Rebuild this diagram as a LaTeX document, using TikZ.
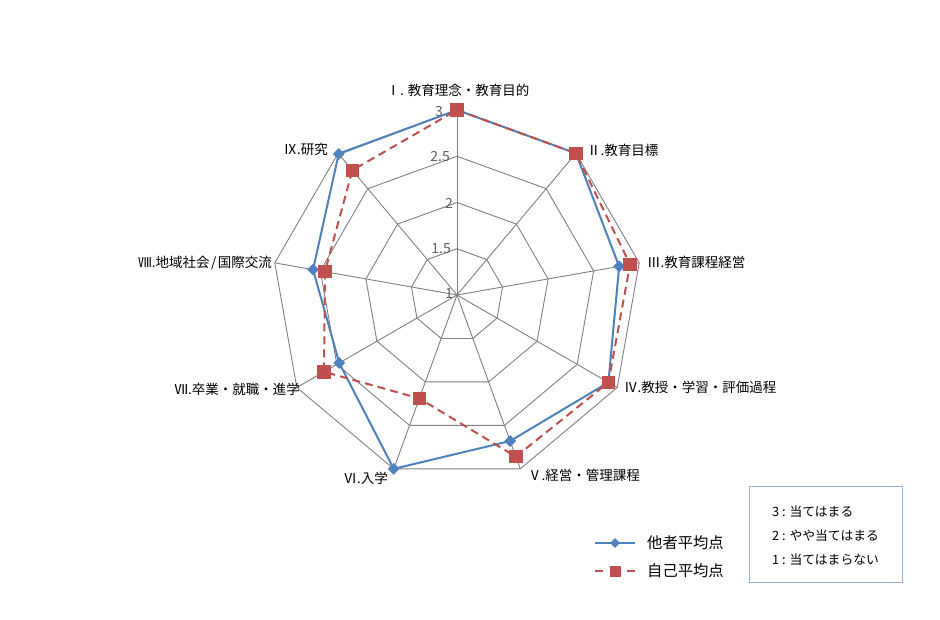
\documentclass[tikz,border=0pt]{standalone}
\usepackage{fontspec}
\setmainfont{Noto Sans CJK JP}
\usetikzlibrary{shapes.geometric}
\definecolor{sblue}{HTML}{4F81BD}
\definecolor{sred}{HTML}{C0504D}
\definecolor{gridc}{HTML}{808080}
\definecolor{scalec}{HTML}{606060}
\definecolor{boxc}{HTML}{95B3D7}
\tikzset{
  gridline/.style={draw=gridc, line width=0.9pt},
  otherline/.style={draw=sblue, line width=2pt, line join=round},
  selfline/.style={draw=sred, line width=2pt, dash pattern=on 8pt off 5pt, line join=round},
  bmark/.style={diamond, fill=sblue, inner sep=0pt, minimum size=12pt},
  rmark/.style={rectangle, fill=sred, inner sep=0pt, minimum size=13.5pt},
  axlabel/.style={font=\fontsize{13.5}{15}\selectfont, inner sep=0pt},
  scalelabel/.style={font=\fontsize{14}{15}\selectfont, text=scalec, inner sep=0pt, anchor=east},
  legtext/.style={font=\fontsize{15.3}{17}\selectfont, inner sep=0pt, anchor=west},
  keytext/.style={font=\fontsize{12.8}{14}\selectfont, inner sep=0pt, anchor=west}
}
\begin{document}
\begin{tikzpicture}[x=1pt,y=-1pt]
\useasboundingbox (0,0) rectangle (940,620);
\coordinate (c) at (457,295);
% grid rings
\foreach \l/\lv in {1/1.5,2/2,3/2.5,4/3} {
  \foreach \k in {0,...,8} {
    \coordinate (g\l-\k) at ({457+(\lv-1)*92.5*cos(90-40*\k)},{295-(\lv-1)*92.5*sin(90-40*\k)});
  }
  \draw[gridline] (g\l-0) \foreach \k in {1,...,8}{ -- (g\l-\k)} -- cycle;
}
\foreach \k in {0,...,8} { \draw[gridline] (c) -- (g4-\k); }
% scale labels
\node[scalelabel] (s3) at (443,112) {3};
\node[scalelabel] (s25) at (450,157) {2.5};
\node[scalelabel] (s2) at (453,203) {2};
\node[scalelabel] (s15) at (451,249) {1.5};
\node[scalelabel] (s1) at (453,294) {1};
% data
\foreach \k/\v in {0/3,1/3,2/2.78,3/2.89,4/2.68,5/3.0,6/2.47,7/2.58,8/2.99} {
  \coordinate (b\k) at ({457+(\v-1)*92.5*cos(90-40*\k)},{295-(\v-1)*92.5*sin(90-40*\k)});
}
\foreach \k/\v in {0/3,1/3,2/2.90,3/2.89,4/2.86,5/2.19,6/2.66,7/2.45,8/2.76} {
  \coordinate (r\k) at ({457+(\v-1)*92.5*cos(90-40*\k)},{295-(\v-1)*92.5*sin(90-40*\k)});
}
\draw[otherline] (b0) \foreach \k in {1,...,8}{ -- (b\k)} -- cycle;
\draw[selfline] (r0) \foreach \k in {1,...,8}{ -- (r\k)} -- cycle;
\foreach \k in {0,...,8} { \node[bmark] (bm\k) at (b\k) {}; }
\foreach \k in {0,...,8} { \node[rmark] (rm\k) at (r\k) {}; }
% axis labels
\node[axlabel] (a1) at (458,90) {Ⅰ. 教育理念・教育目的};
\node[axlabel, anchor=west] (a2) at (587,150) {Ⅱ.教育目標};
\node[axlabel, anchor=west] (a3) at (647,262) {Ⅲ.教育課程経営};
\node[axlabel, anchor=west] (a4) at (624,387) {Ⅳ.教授・学習・評価過程};
\node[axlabel, anchor=west] (a5) at (528,475) {Ⅴ.経営・管理課程};
\node[axlabel, anchor=east] (a6) at (388,478) {Ⅵ.入学};
\node[axlabel, anchor=east] (a7) at (300,389) {Ⅶ.卒業・就職・進学};
\node[axlabel, anchor=east] (a8) at (272,263) {Ⅷ.地域社会\hspace{1.5pt}/\hspace{1.5pt}国際交流};
\node[axlabel, anchor=east] (a9) at (328,149) {Ⅸ.研究};
% legend
\coordinate (lb1) at (595,543); \coordinate (lb2) at (635,543);
\draw[otherline] (lb1) -- (lb2);
\node[bmark, minimum size=10pt] (lbm) at (615,543) {};
\node[legtext] (lbt) at (647,543) {他者平均点};
\coordinate (lr1) at (595,571); \coordinate (lr2) at (603,571);
\coordinate (lr3) at (627,571); \coordinate (lr4) at (635,571);
\draw[draw=sred, line width=2pt] (lr1) -- (lr2);
\draw[draw=sred, line width=2pt] (lr3) -- (lr4);
\node[rmark, minimum size=11pt] (lrm) at (615,571) {};
\node[legtext] (lrt) at (647,571) {自己平均点};
% key box
\node[draw=boxc, line width=1.2pt, minimum width=153pt, minimum height=96pt, anchor=north west, inner sep=0pt] (box) at (749,486) {};
\node[keytext] (k3) at (772,512) {3 : 当てはまる};
\node[keytext] (k2) at (772,536) {2 : やや当てはまる};
\node[keytext] (k1) at (772,560) {1 : 当てはまらない};
\end{tikzpicture}
\end{document}
